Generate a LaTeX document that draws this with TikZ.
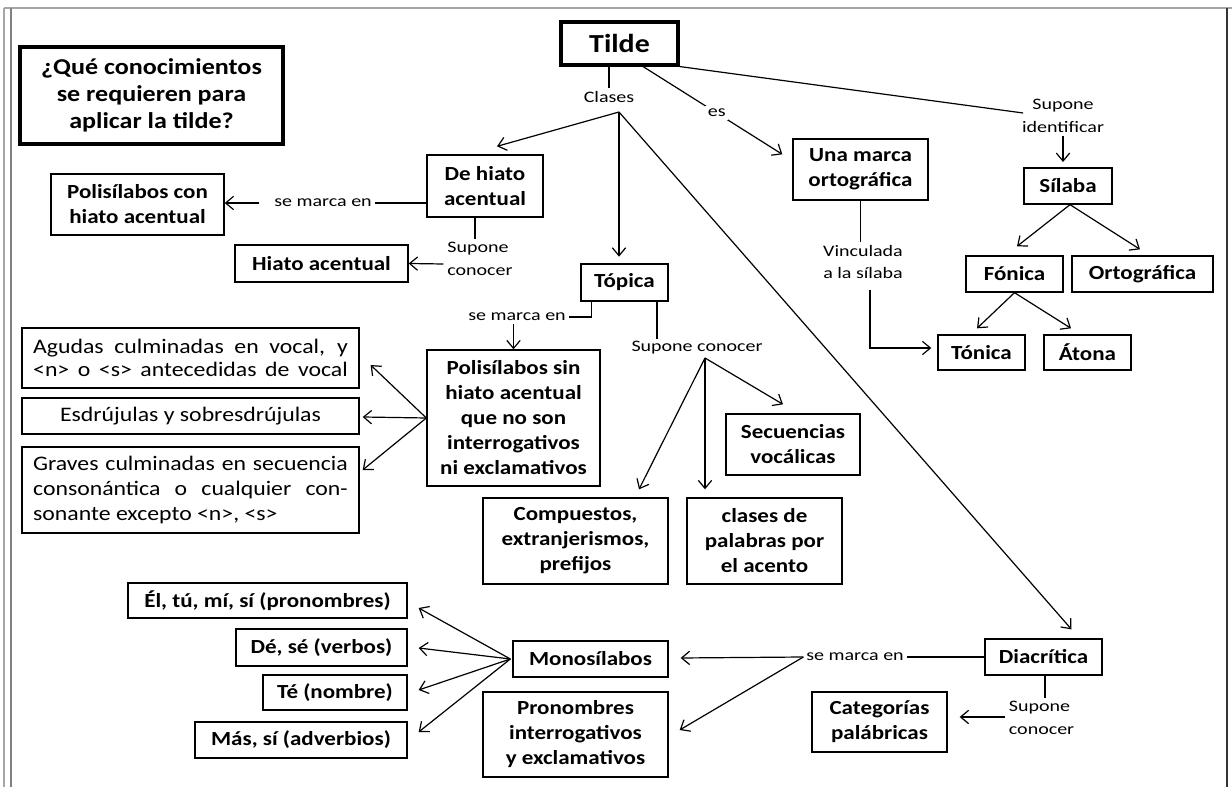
\documentclass[tikz,border=0pt]{standalone}
\usepackage{fontspec}
\setmainfont{Carlito}[FakeStretch=1.15]
\newfontfamily\lblfont{Carlito}[FakeStretch=1.25]
\usetikzlibrary{arrows.meta,calc}
\newcommand\bnode[7][]{\node[bx,minimum width={(#5-#3)*0.75pt},minimum height={(#6-#4)*0.75pt},#1] (#2) at ({(#3+#5)/2},{(#4+#6)/2}) {#7};}
\newcommand\jline[1]{\makebox[236pt][s]{#1}}
\begin{document}
\begin{tikzpicture}[x=0.75pt,y=-0.75pt,
 bx/.style={draw,line width=1pt,inner sep=0pt,align=center,font=\fontsize{15}{18.75}\selectfont\bfseries},
 thickbx/.style={line width=2.3pt},
 plain/.style={font=\fontsize{15.5}{18.75}\selectfont},
 lbl/.style={inner sep=2pt,align=center,font=\lblfont\fontsize{12}{17}\selectfont},
 arr/.style={-{Straight Barb[length=6pt,width=10pt]}},
 ln/.style={line width=0.9pt}
]
\useasboundingbox (0,0) rectangle (1232,787);
% frame
\draw[gray!70,line width=1.2pt] (4,8) -- (1232,8);
\draw[gray!70,line width=1.2pt] (4,8) -- (4,787);
\draw[gray,line width=1.2pt] (11,8) -- (11,787);
\draw[black!80,line width=1pt] (1227,8) -- (1227,787);
% boxes
\bnode[thickbx,font=\fontsize{17}{20.5}\selectfont\bfseries]{q}{20}{47}{283}{144}{¿Qué conocimientos\\se requieren para\\aplicar la tilde?}
\bnode[thickbx,font=\fontsize{19.5}{22}\selectfont\bfseries]{tilde}{561}{22}{678}{65}{Tilde}
\bnode{poli1}{51}{174}{224}{235}{Polisílabos con\\hiato acentual}
\bnode{dehiato}{427}{155}{543}{217}{De hiato\\acentual}
\bnode{hiato}{235}{245}{408}{282}{Hiato acentual}
\bnode{topica}{581}{264}{668}{301}{Tópica}
\bnode{marca}{793}{139}{928}{200}{Una marca\\ortográfica}
\bnode{silaba}{1024}{168}{1112}{204}{Sílaba}
\bnode{fonica}{966}{256}{1063}{292}{Fónica}
\bnode{orto}{1072}{256}{1213}{292}{Ortográfica}
\bnode{tonica}{938}{335}{1025}{370}{Tónica}
\bnode{atona}{1044}{335}{1131}{370}{Átona}
\bnode[plain,font=\fontsize{15.5}{17}\selectfont,align=left]{agudas}{22}{328}{359}{388}{\jline{Agudas culminadas en vocal, y}\\\jline{<n> o <s> antecedidas de vocal}}
\bnode[plain]{esdr}{22}{398}{359}{434}{Esdrújulas y sobresdrújulas}
\bnode[plain,align=left]{graves}{22}{447}{359}{533}{\jline{Graves culminadas en secuencia}\\\jline{consonántica o cualquier con-}\\\makebox[236pt][l]{sonante excepto <n>, <s>}}
\bnode{polisin}{427}{350}{600}{486}{Polisílabos sin\\hiato acentual\\que no son\\interrogativos\\ni exclamativos}
\bnode{secu}{726}{414}{860}{475}{Secuencias\\vocálicas}
\bnode{comp}{483}{498}{668}{584}{Compuestos,\\extranjerismos,\\prefijos}
\bnode{clases}{687}{498}{842}{584}{clases de\\palabras por\\el acento}
\bnode{el}{128}{583}{407}{618}{Él, tú, mí, sí (pronombres)}
\bnode{de}{236}{629}{407}{666}{Dé, sé (verbos)}
\bnode{te}{263}{675}{407}{710}{Té (nombre)}
\bnode{mas}{195}{722}{407}{758}{Más, sí (adverbios)}
\bnode{mono}{513}{641}{668}{677}{Monosílabos}
\bnode{pron}{483}{692}{668}{777}{Pronombres\\interrogativos\\y exclamativos}
\bnode{diacr}{985}{639}{1102}{675}{Diacrítica}
\bnode{categ}{812}{692}{947}{752}{Categorías\\palábricas}
% labels
\node[lbl] (lcl) at (609,97) {Clases};
\node[lbl] (lsi) at (1063,116) {Supone\\identificar};
\node[lbl] (lsm1) at (323,203) {se marca en};
\node[lbl,align=left] (lsc1) at (480,259) {Supone\\conocer};
\node[lbl] (lsm2) at (517,317) {se marca en};
\node[lbl] (lsc2) at (697,348) {Supone conocer};
\node[lbl] (lvin) at (863,262) {Vinculada\\a la sílaba};
\node[lbl] (lsm3) at (855,657) {se marca en};
\node[lbl,align=left,anchor=west] (lsc3) at (1006,718) {Supone\\conocer};
% junctions
\coordinate (cj) at (619,112);
\coordinate (sj) at (705,358);
\coordinate (dh1) at ($(dehiato.south)+(-10,0)$);
\coordinate (tp1) at ($(topica.south)+(32.5,0)$);
\coordinate (dc1) at ($(diacr.south)+(1.5,0)$);
% connectors
\draw[ln] (tilde.south -| lcl) -- (lcl.north);
\draw[ln,arr] (cj) -- ($(dehiato.north)+(12,-8)$);
\draw[ln,arr,shorten >=5pt] (cj) -- (cj |- topica.north);
\draw[ln,arr] (cj) -- ($(diacr.north)+(28,-9)$);
\draw[ln,arr] ($(tilde.south)+(23.5,0)$) -- node[lbl,fill=white,pos=0.53] (les) {es} ($(marca.north west)+(-10,16)$);
\draw[ln] (tilde.south east) -- ($(lsi.west)+(4,-3)$);
\draw[ln,arr,shorten >=4pt] (lsi.south) -- (lsi.south |- silaba.north);
\draw[ln,arr] ($(silaba.south)+(2,0)$) -- ($(fonica.north)+(2.5,-9)$);
\draw[ln,arr] ($(silaba.south)+(2,0)$) -- ($(orto.north)+(-2.5,-6)$);
\draw[ln,arr] (fonica.south) -- ($(tonica.north)+(-4.5,-6)$);
\draw[ln,arr] (fonica.south) -- ($(atona.north)+(-16.5,-6)$);
\draw[ln] (marca.south) -- (marca.south |- lvin.north);
\draw[ln,arr] ($(lvin.south)+(7,8)$) |- ($(tonica.west)+(-6,-4.5)$);
\draw[ln] (lsm1.east) -- (lsm1.east -| dehiato.west);
\draw[ln,arr] ($(lsm1.west)+(-12,0)$) -- (lsm1.west -| poli1.east);
\draw[ln] (dh1) -- (dh1 |- lsc1.north);
\draw[ln,arr] ($(lsc1.west)+(-1,5)$) -- (hiato.east);
\draw[ln] ($(topica.south west)+(11,0)$) |- (lsm2.east);
\draw[ln,arr] (lsm2.south -| polisin.north) -- (polisin.north);
\draw[ln] (tp1) -- (tp1 |- lsc2.north);
\draw[ln,arr] (sj) -- ($(comp.north)+(63.5,-8)$);
\draw[ln,arr,shorten >=6pt] (sj) -- (sj |- clases.north);
\draw[ln,arr] (sj) -- ($(secu.north)+(-10,-9)$);
\draw[ln,arr] (polisin.west) -- ($(agudas.east)+(11,7)$);
\draw[ln,arr] (polisin.west) -- ($(esdr.east)+(3,1)$);
\draw[ln,arr] (polisin.west) -- ($(graves.east)+(3,-20)$);
\draw[ln] (diacr.west) -- (lsm3.east);
\draw[ln,arr] (lsm3.west) -- ($(mono.east)+(12,-1)$);
\draw[ln,arr] (lsm3.west) -- ($(pron.east)+(11,-4.5)$);
\draw[ln,arr] ($(mono.west)+(-2,0)$) -- ($(el.east)+(11,7.5)$);
\draw[ln,arr] ($(mono.west)+(-2,0)$) -- ($(de.east)+(11,0.5)$);
\draw[ln,arr] ($(mono.west)+(-2,0)$) -- ($(te.east)+(11,-2.5)$);
\draw[ln,arr] ($(mono.west)+(-2,0)$) -- ($(mas.east)+(11,-8)$);
\draw[ln] (dc1) -- (dc1 |- lsc3.north);
\draw[ln,arr] ($(lsc3.west)+(-1,-1)$) -- ($(categ.east)+(12,-5)$);
\end{tikzpicture}
\end{document}
